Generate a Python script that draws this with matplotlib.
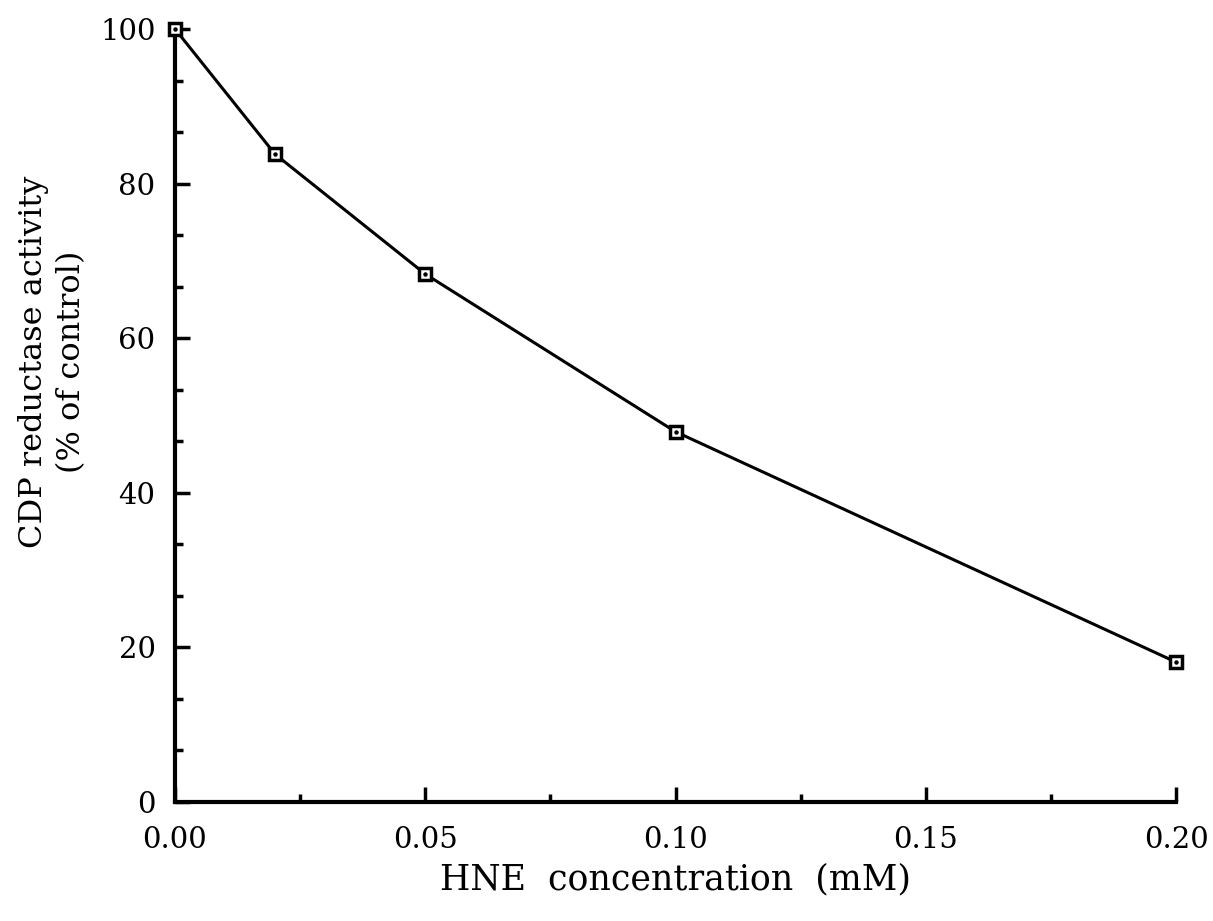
import matplotlib
matplotlib.use("Agg")
import matplotlib.pyplot as plt
from matplotlib.ticker import MultipleLocator, FixedLocator
import numpy as np

# HNE concentration (mM) and CDP reductase activity (% of control)
hne_mM = [0.0, 0.02, 0.05, 0.10, 0.20]
activity_pct = [100.0, 83.8, 68.3, 47.9, 18.1]

x_ticks = [0.00, 0.05, 0.10, 0.15, 0.20]
x_tick_labels = ["0.00", "0.05", "0.10", "0.15", "0.20"]
y_ticks = [0, 20, 40, 60, 80, 100]

plt.rcParams["font.family"] = ["DejaVu Serif"]

fig = plt.figure(figsize=(12.13, 9.21), dpi=100)
ax = fig.add_axes([175 / 1213, 1 - 802 / 921, (1176 - 175) / 1213, (802 - 29) / 921])

ax.plot(hne_mM, activity_pct, color="black", lw=2.2, marker="s", ms=9,
        mfc="white", mec="black", mew=2.5, zorder=3, clip_on=False)
ax.plot(hne_mM, activity_pct, ls="none", marker="o", ms=2.2, color="black",
        zorder=4, clip_on=False)

ax.set_xlim(0, 0.20)
ax.set_ylim(0, 100)

for side in ("top", "right"):
    ax.spines[side].set_visible(False)
for side in ("left", "bottom"):
    ax.spines[side].set_linewidth(3)

ax.set_xticks(x_ticks)
ax.set_xticklabels(x_tick_labels)
ax.set_yticks(y_ticks)
ax.xaxis.set_minor_locator(MultipleLocator(0.025))
ax.yaxis.set_minor_locator(FixedLocator(np.arange(0, 100.01, 20 / 3)))

ax.tick_params(which="major", direction="in", length=11, width=2.5,
               labelsize=21)
ax.tick_params(which="minor", direction="in", length=6, width=2.5)
ax.tick_params(axis="x", which="major", pad=17)
ax.tick_params(axis="y", which="major", pad=14)

ax.set_xlabel("HNE  concentration  (mM)", fontsize=25)
ax.xaxis.set_label_coords(0.5, -0.078)
ax.set_ylabel("CDP reductase activity\n(% of control)", fontsize=23,
              linespacing=1.3)
ax.yaxis.set_label_coords(-0.088, 0.57)

fig.savefig("out.png", dpi=100, facecolor="white")
